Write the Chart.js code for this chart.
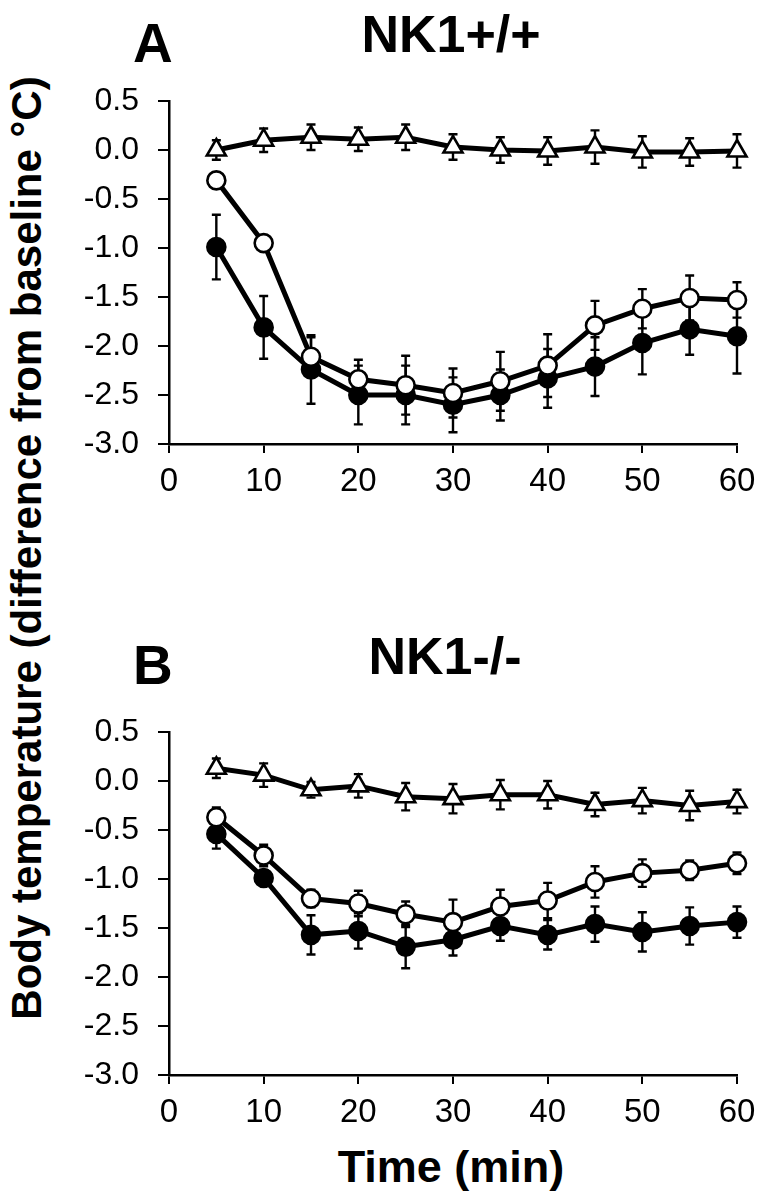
<!DOCTYPE html>
<html>
<head>
<meta charset="utf-8">
<script src="https://cdn.jsdelivr.net/npm/chart.js@4.4.1/dist/chart.umd.min.js"></script>
<style>
    body { margin: 0; background: #fff; width: 759px; height: 1199px; position: relative; overflow: hidden; }
    canvas { position: absolute; left: 0; }
    .lbl { position: absolute; font-family: "Liberation Sans", Arial, sans-serif; font-weight: bold; color: #000; white-space: nowrap; line-height: 1; }
</style>
</head>
<body>
<div class="lbl" style="left:133px; top:16px; font-size:55px;">A</div>
<div class="lbl" style="left:451px; top:8px; font-size:52px; transform:translateX(-50%);">NK1+/+</div>
<div class="lbl" style="left:133px; top:638px; font-size:55px;">B</div>
<div class="lbl" style="left:445px; top:630px; font-size:52px; transform:translateX(-50%);">NK1-/-</div>
<div class="lbl" style="left:27px; top:548px; font-size:42px; transform:translate(-50%,-50%) rotate(-90deg);">Body temperature (difference from baseline °C)</div>
<div class="lbl" style="left:451px; top:1144px; font-size:45px; transform:translateX(-50%);">Time (min)</div>

<canvas id="chart-a" width="800" height="500" style="top:0px"></canvas>
<canvas id="chart-b" width="800" height="500" style="top:631px"></canvas>

<script>
"use strict";

// time points (min)
const times = [5, 10, 15, 20, 25, 30, 35, 40, 45, 50, 55, 60];

// axis ticks
const x_ticks = [0, 10, 20, 30, 40, 50, 60];
const y_ticks = [0.5, 0.0, -0.5, -1.0, -1.5, -2.0, -2.5, -3.0];

// panel A, NK1+/+
const a_triangle = [0.0, 0.10, 0.13, 0.11, 0.13, 0.03, 0.0, -0.01, 0.03, -0.02, -0.02, -0.01];
const a_triangle_err = [0.10, 0.12, 0.13, 0.12, 0.13, 0.13, 0.13, 0.14, 0.17, 0.16, 0.14, 0.17];
const a_open = [-0.31, -0.95, -2.11, -2.34, -2.40, -2.48, -2.36, -2.20, -1.79, -1.62, -1.51, -1.53];
const a_open_err = [0.08, 0.05, 0.20, 0.20, 0.30, 0.25, 0.30, 0.32, 0.25, 0.20, 0.23, 0.18];
const a_filled = [-0.99, -1.81, -2.24, -2.50, -2.50, -2.60, -2.50, -2.33, -2.21, -1.97, -1.83, -1.90];
const a_filled_err = [0.33, 0.32, 0.35, 0.30, 0.30, 0.28, 0.26, 0.30, 0.30, 0.32, 0.26, 0.38];

// panel B, NK1-/-
const b_triangle = [0.13, 0.06, -0.09, -0.05, -0.16, -0.18, -0.14, -0.14, -0.24, -0.20, -0.25, -0.21];
const b_triangle_err = [0.10, 0.12, 0.08, 0.12, 0.14, 0.15, 0.15, 0.14, 0.12, 0.13, 0.15, 0.12];
const b_open = [-0.37, -0.76, -1.20, -1.25, -1.36, -1.44, -1.28, -1.22, -1.03, -0.94, -0.91, -0.84];
const b_open_err = [0.10, 0.11, 0.09, 0.13, 0.13, 0.23, 0.17, 0.18, 0.16, 0.14, 0.10, 0.11];
const b_filled = [-0.54, -0.99, -1.57, -1.53, -1.69, -1.62, -1.48, -1.57, -1.46, -1.54, -1.48, -1.44];
const b_filled_err = [0.15, 0.08, 0.20, 0.18, 0.22, 0.16, 0.15, 0.15, 0.18, 0.20, 0.19, 0.16];

const FONT_FAMILY = "'Liberation Sans', Arial, sans-serif";

function to_points(values) {
    return values.map((v, i) => ({ x: times[i], y: v }));
}

// draws vertical error bars with caps, using the chart scales
const error_bars = {
    id: 'error_bars',
    beforeDatasetsDraw(chart) {
        const ctx = chart.ctx;
        const xs = chart.scales.x;
        const ys = chart.scales.y;
        ctx.save();
        ctx.strokeStyle = '#000';
        ctx.lineWidth = 2.4;
        chart.data.datasets.forEach(ds => {
            ds.data.forEach((p, i) => {
                const err = ds.errors[i];
                const px = xs.getPixelForValue(p.x);
                const top = ys.getPixelForValue(p.y + err);
                const bot = ys.getPixelForValue(p.y - err);
                ctx.beginPath();
                ctx.moveTo(px, top);
                ctx.lineTo(px, bot);
                ctx.moveTo(px - 4.5, top);
                ctx.lineTo(px + 4.5, top);
                ctx.moveTo(px - 4.5, bot);
                ctx.lineTo(px + 4.5, bot);
                ctx.stroke();
            });
        });
        ctx.restore();
    }
};

function make_dataset(values, errors, style, fill) {
    return {
        data: to_points(values),
        errors: errors,
        borderColor: '#000',
        borderWidth: 5,
        pointStyle: style,
        pointRadius: style === 'triangle' ? 11 : 9,
        pointBackgroundColor: fill,
        pointBorderColor: '#000',
        pointBorderWidth: 2.6,
        tension: 0,
        clip: false,
    };
}

function load_panel(canvas_element, tri, tri_err, open, open_err, filled, filled_err) {
    new Chart(canvas_element, {
        type: 'line',
        data: {
            datasets: [
                make_dataset(tri, tri_err, 'triangle', '#fff'),
                make_dataset(open, open_err, 'circle', '#fff'),
                make_dataset(filled, filled_err, 'circle', '#000'),
            ]
        },
        options: {
            responsive: false,
            devicePixelRatio: 1,
            animation: false,
            layout: { padding: { left: 0, right: 63, top: 101, bottom: 0 } },
            plugins: {
                legend: { display: false },
                tooltip: { enabled: false },
            },
            scales: {
                x: {
                    type: 'linear',
                    min: 0,
                    max: 60,
                    afterBuildTicks: s => { s.ticks = x_ticks.map(v => ({ value: v })); },
                    ticks: { color: '#000', font: { family: FONT_FAMILY, size: 33 }, padding: 9, maxRotation: 0 },
                    grid: { drawOnChartArea: false, drawTicks: true, tickLength: 9, color: '#000', lineWidth: 2 },
                    border: { display: true, color: '#000', width: 2.5 },
                    afterFit: s => { s.height = 56; },
                },
                y: {
                    type: 'linear',
                    min: -3,
                    max: 0.5,
                    afterBuildTicks: s => { s.ticks = y_ticks.map(v => ({ value: v })); },
                    ticks: { color: '#000', font: { family: FONT_FAMILY, size: 32 }, padding: 19, callback: v => v.toFixed(1) },
                    grid: { drawOnChartArea: false, drawTicks: true, tickLength: 11, color: '#000', lineWidth: 2 },
                    border: { display: true, color: '#000', width: 2.5 },
                    afterFit: s => { s.width = 169; },
                }
            }
        },
        plugins: [error_bars]
    });
}

load_panel(document.getElementById('chart-a'), a_triangle, a_triangle_err, a_open, a_open_err, a_filled, a_filled_err);
load_panel(document.getElementById('chart-b'), b_triangle, b_triangle_err, b_open, b_open_err, b_filled, b_filled_err);
</script>
</body>
</html>
